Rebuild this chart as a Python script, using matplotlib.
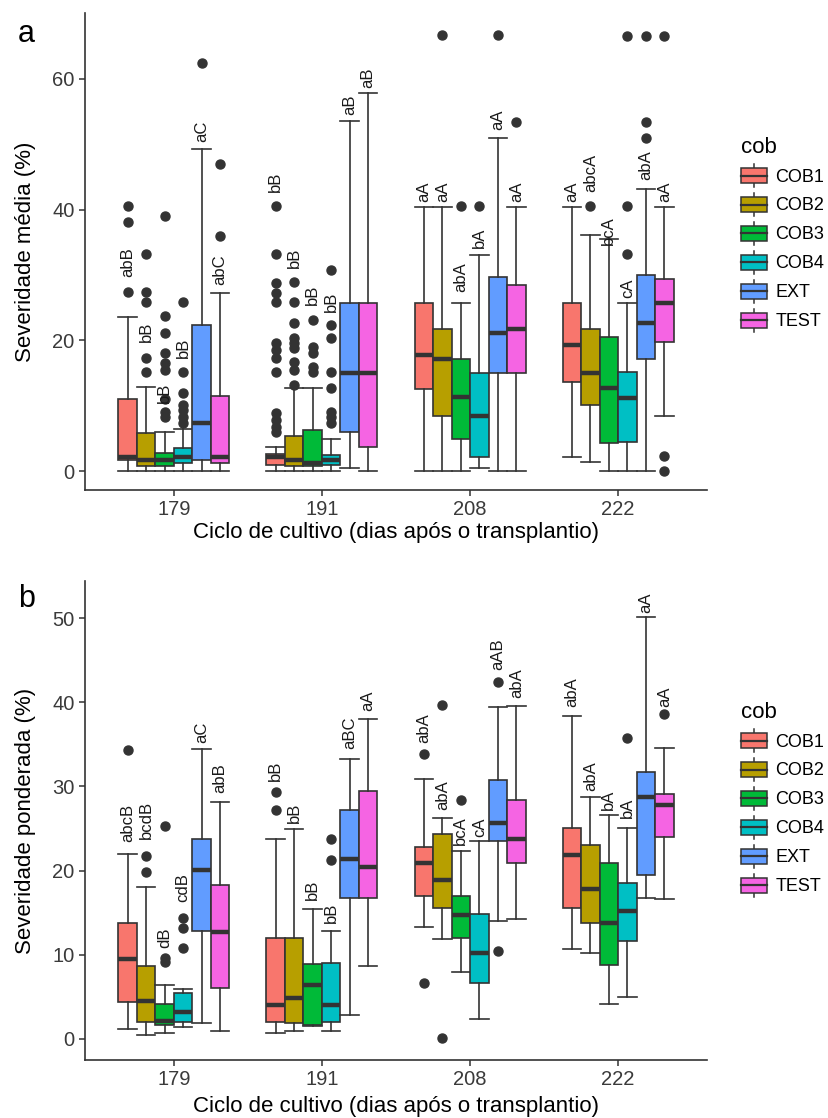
import matplotlib
matplotlib.use('Agg')
import matplotlib.pyplot as plt
from matplotlib.legend_handler import HandlerBase
from matplotlib.patches import Patch, Rectangle
from matplotlib.lines import Line2D

plt.rcParams['font.family'] = ['Liberation Sans', 'DejaVu Sans']

ciclos = ['179', '191', '208', '222']
cobs = ['COB1', 'COB2', 'COB3', 'COB4', 'EXT', 'TEST']
cores = ['#F8766D', '#B79F00', '#00BA38', '#00BFC4', '#619CFF', '#F564E3']

# painel a - severidade media (linhas = cob, colunas = ciclo)
a_q1 = [[1.7, 0.9, 12.6, 13.6],
        [0.8, 0.7, 8.4, 10.1],
        [0.7, 0.8, 4.9, 4.3],
        [1.3, 0.9, 2.1, 4.4],
        [1.7, 6.0, 15.0, 17.1],
        [1.2, 3.7, 15.0, 19.7]]
a_med = [[2.1, 2.1, 17.8, 19.3],
         [1.7, 1.7, 17.1, 15.0],
         [1.7, 1.3, 11.3, 12.7],
         [2.1, 1.7, 8.4, 11.2],
         [7.3, 15.0, 21.1, 22.7],
         [2.1, 15.0, 21.7, 25.7]]
a_q3 = [[11.0, 2.6, 25.7, 25.7],
        [5.8, 5.4, 21.7, 21.7],
        [2.7, 6.3, 17.1, 20.5],
        [3.5, 2.45, 15.0, 15.2],
        [22.3, 25.7, 29.7, 30.0],
        [11.5, 25.7, 28.5, 29.4]]
a_min = [[0, 0, 0, 2.1],
         [0, 0, 0, 1.4],
         [0, 0, 0, 0],
         [0, 0, 0.5, 0],
         [0, 0.5, 0, 0],
         [0, 0, 0, 8.4]]
a_max = [[23.6, 3.7, 40.4, 40.4],
         [12.9, 12.7, 40.4, 36.1],
         [6.0, 12.7, 25.7, 35.5],
         [6.4, 4.85, 33.1, 25.7],
         [49.3, 53.6, 51.0, 43.2],
         [27.2, 57.9, 40.4, 40.4]]
a_out = [[[27.4, 38.1, 40.6],
          [6.0, 6.7, 7.8, 8.9, 15.2, 17.3, 18.5, 19.6, 25.9, 27.2, 28.8, 33.2, 40.6], [], []],
         [[15.2, 17.3, 25.9, 27.4, 33.2],
          [13.2, 15.5, 16.7, 18.8, 19.6, 20.4, 22.7, 25.9, 28.9], [66.7], [40.6]],
         [[8.3, 9.1, 11.1, 15.5, 16.5, 18.0, 21.2, 23.7, 39.0],
          [15.2, 15.9, 18.1, 19.0, 23.1], [40.6], []],
         [[7.3, 8.3, 9.3, 10.1, 11.9, 15.2, 25.9],
          [7.3, 8.3, 9.0, 12.7, 15.2, 20.4, 22.3, 30.8], [40.6], [33.2, 40.6, 66.6]],
         [[62.4], [], [66.7], [51.0, 53.4, 66.6]],
         [[36.0, 47.0], [], [53.4], [0.0, 2.3, 66.6]]]
a_letras = [['abB', 'bB', 'aA', 'aA'],
            ['bB', 'bB', 'aA', 'abcA'],
            ['bB', 'bB', 'abA', 'bcA'],
            ['bB', 'bB', 'bA', 'cA'],
            ['aC', 'aB', 'aA', 'abA'],
            ['abC', 'aB', 'aA', 'aA']]
a_letras_y = [[29.7, 42.7, 41.2, 41.2],
              [19.7, 31.1, 41.2, 42.7],
              [10.4, 25.4, 27.4, 34.6],
              [17.3, 24.3, 34.1, 26.5],
              [50.4, 54.5, 52.2, 44.5],
              [28.5, 58.6, 41.2, 41.2]]

# painel b - severidade ponderada
b_q1 = [[4.4, 2.05, 17.0, 15.6],
        [2.05, 1.85, 15.6, 13.8],
        [1.66, 1.7, 12.05, 8.8],
        [2.05, 2.05, 6.6, 11.6],
        [12.8, 16.8, 23.5, 19.45],
        [6.1, 16.8, 20.85, 24.0]]
b_med = [[9.5, 4.0, 20.85, 21.9],
         [4.5, 4.9, 18.9, 17.8],
         [2.1, 6.4, 14.7, 13.8],
         [3.25, 4.0, 10.2, 15.2],
         [20.1, 21.35, 25.6, 28.7],
         [12.65, 20.4, 23.8, 27.75]]
b_q3 = [[13.8, 12.0, 22.8, 25.1],
        [8.7, 12.0, 24.4, 23.0],
        [4.15, 8.85, 17.0, 20.85],
        [5.4, 9.0, 14.9, 18.5],
        [23.8, 27.2, 30.8, 31.75],
        [18.3, 29.4, 28.4, 29.15]]
b_min = [[1.15, 0.75, 13.25, 10.7],
         [0.5, 0.9, 11.9, 10.2],
         [0.7, 1.5, 8.0, 4.2],
         [1.4, 0.9, 2.35, 5.0],
         [1.85, 2.85, 14.0, 16.8],
         [0.9, 8.7, 14.2, 16.6]]
b_max = [[22.0, 23.7, 30.85, 38.4],
         [18.0, 24.9, 26.3, 28.7],
         [6.4, 15.4, 22.3, 26.6],
         [5.9, 12.8, 23.5, 25.1],
         [34.4, 33.2, 39.4, 50.1],
         [28.2, 38.0, 39.6, 34.6]]
b_out = [[[34.3], [27.2, 29.3], [6.7, 33.8], []],
         [[19.8, 21.7], [], [0.1, 39.7], []],
         [[9.2, 9.6, 25.3], [], [28.35], []],
         [[10.8, 13.2, 14.35], [21.2, 23.8], [], [35.7]],
         [[], [], [10.4, 42.4], []],
         [[], [], [], [38.55]]]
b_letras = [['abcB', 'bB', 'abA', 'abA'],
            ['bcdB', 'bB', 'abA', 'abA'],
            ['dB', 'bB', 'bcA', 'bA'],
            ['cdB', 'bB', 'cA', 'bA'],
            ['aC', 'aBC', 'aAB', 'aA'],
            ['abB', 'aA', 'abA', 'aA']]
b_letras_y = [[23.4, 30.7, 35.1, 39.4],
              [23.7, 25.7, 27.2, 29.5],
              [10.8, 16.5, 23.0, 27.2],
              [16.25, 13.8, 24.0, 26.2],
              [35.1, 34.5, 43.8, 50.65],
              [29.2, 39.0, 40.45, 39.4]]

cinza = '#333333'


class CaixaHandler(HandlerBase):
    def create_artists(self, legend, orig_handle, xdescent, ydescent,
                       width, height, fontsize, trans):
        x0, y0 = -xdescent, -ydescent
        cx = x0 + width / 2
        w1 = Line2D([cx, cx], [y0, y0 + height * 0.18], color=cinza, lw=1.1, transform=trans)
        w2 = Line2D([cx, cx], [y0 + height * 0.82, y0 + height], color=cinza, lw=1.1, transform=trans)
        caixa = Rectangle((x0, y0 + height * 0.18), width, height * 0.64,
                          facecolor=orig_handle.get_facecolor(), edgecolor=cinza,
                          lw=1.1, transform=trans)
        med = Line2D([x0, x0 + width], [y0 + height / 2] * 2, color=cinza, lw=1.6, transform=trans)
        return [w1, w2, caixa, med]


def painel(ax, q1, med, q3, lo, hi, out, letras, letras_y):
    for i in range(len(cobs)):
        pos = [g + 1 + (i - 2.5) * 0.125 for g in range(len(ciclos))]
        stats = [dict(q1=q1[i][g], med=med[i][g], q3=q3[i][g],
                      whislo=lo[i][g], whishi=hi[i][g], fliers=out[i][g])
                 for g in range(len(ciclos))]
        ax.bxp(stats, positions=pos, widths=0.125, capwidths=0.125,
               patch_artist=True, manage_ticks=False,
               boxprops=dict(facecolor=cores[i], edgecolor=cinza, linewidth=1.2),
               medianprops=dict(color=cinza, linewidth=3.2, solid_capstyle='butt'),
               whiskerprops=dict(color=cinza, linewidth=1.2),
               capprops=dict(color=cinza, linewidth=1.2),
               flierprops=dict(marker='o', markerfacecolor=cinza,
                               markeredgecolor=cinza, markersize=6.5))
        for g in range(len(ciclos)):
            ax.text(pos[g], letras_y[i][g], letras[i][g], rotation=90,
                    ha='center', va='bottom', fontsize=12, color='#1a1a1a')
    ax.set_xlim(0.4, 4.6)
    ax.set_xticks(range(1, 5))
    ax.set_xticklabels(ciclos)
    ax.spines['top'].set_visible(False)
    ax.spines['right'].set_visible(False)
    for s in ['left', 'bottom']:
        ax.spines[s].set_color(cinza)
        ax.spines[s].set_linewidth(1.2)
    ax.tick_params(colors=cinza, labelcolor='#3a3a3a', labelsize=14.5, length=4, width=1.1)
    handles = [Patch(facecolor=c, edgecolor=cinza) for c in cores]
    return handles


fig = plt.figure(figsize=(8.29, 11.18), dpi=100)
W, H = 829, 1118
xtitulo = 'Ciclo de cultivo (dias após o transplantio)'

ax1 = fig.add_axes([85 / W, 1 - 490 / H, 622 / W, 477 / H])
h = painel(ax1, a_q1, a_med, a_q3, a_min, a_max, a_out, a_letras, a_letras_y)
ax1.set_ylim(-2.9, 70.1)
ax1.set_yticks([0, 20, 40, 60])
ax1.set_ylabel('Severidade média (%)', fontsize=16, labelpad=12)
ax1.set_xlabel(xtitulo, fontsize=16, labelpad=2)
ax1.legend(h, cobs, title='cob', loc='upper left', bbox_to_anchor=(741 / W, 1 - 137 / H),
           bbox_transform=fig.transFigure, frameon=False,
           handler_map={Patch: CaixaHandler()}, handlelength=1.45, handleheight=1.55,
           labelspacing=0.35, handletextpad=0.45, fontsize=13, title_fontsize=16,
           alignment='left', borderpad=0, borderaxespad=0)

ax2 = fig.add_axes([85 / W, 1 - 1060 / H, 622 / W, 479 / H])
h = painel(ax2, b_q1, b_med, b_q3, b_min, b_max, b_out, b_letras, b_letras_y)
ax2.set_ylim(-2.5, 54.4)
ax2.set_yticks([0, 10, 20, 30, 40, 50])
ax2.set_ylabel('Severidade ponderada (%)', fontsize=16, labelpad=12)
ax2.set_xlabel(xtitulo, fontsize=16, labelpad=5)
ax2.legend(h, cobs, title='cob', loc='upper left', bbox_to_anchor=(741 / W, 1 - 702 / H),
           bbox_transform=fig.transFigure, frameon=False,
           handler_map={Patch: CaixaHandler()}, handlelength=1.45, handleheight=1.55,
           labelspacing=0.35, handletextpad=0.45, fontsize=13, title_fontsize=16,
           alignment='left', borderpad=0, borderaxespad=0)

fig.text(26 / W, 1 - 34 / H, 'a', fontsize=22, ha='center', va='center')
fig.text(27 / W, 1 - 599 / H, 'b', fontsize=22, ha='center', va='center')

fig.savefig('out.png', dpi=100)
